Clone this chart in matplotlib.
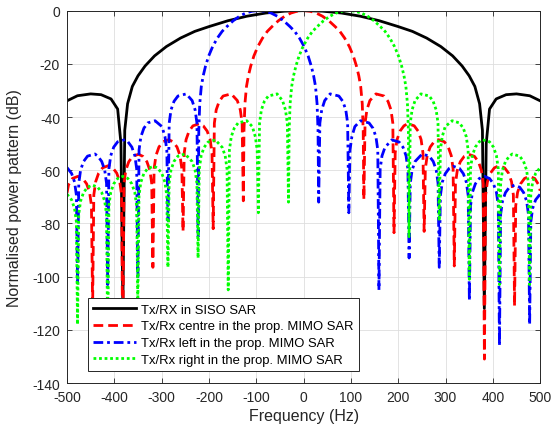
import numpy as np
import matplotlib
matplotlib.use('Agg')
import matplotlib.pyplot as plt

# Values: (frequency in Hz, level in dB)
# nulls, sidelobe peaks and shoulder points of each pattern

siso_pts = [(-500, -33.9), (-478, -32.0), (-450, -31.3), (-428, -31.6), (-407, -33.2),
            (-393, -37.0), (-386, -50), (-382, -112), (-378, -45), (-372, -35),
            (-362, -28.5), (-350, -24.5), (-335, -20.8), (-315, -17.0), (-290, -13.5),
            (-260, -10.3), (-230, -7.8), (-200, -6.0), (-160, -3.8), (-120, -2.1),
            (-80, -0.9), (-40, -0.2), (0, 0), (40, -0.2), (80, -0.9), (120, -2.1),
            (160, -3.8), (200, -6.0), (230, -7.8), (260, -10.3), (290, -13.5),
            (315, -17.0), (335, -20.8), (350, -24.5), (362, -28.5), (372, -35),
            (378, -45), (382, -112), (386, -50), (393, -37.0), (407, -33.2),
            (428, -31.6), (450, -31.3), (478, -32.0), (500, -33.9)]

centre_pts = [(-500, -68.5), (-496.9, -65.5), (-488.6, -63.1), (-477, -62.3), (-466.9, -63.1),
              (-458.6, -65.1), (-452.3, -68.3), (-448.4, -73.3), (-445.9, -111),
              (-443.4, -69.3), (-439.5, -64.3), (-433.2, -61.1), (-424.9, -59.1), (-413, -58.3),
              (-403.2, -59.1), (-394.9, -61.1), (-388.6, -64.3), (-384.7, -69.3), (-382.2, -131),
              (-379.7, -65), (-375.8, -60), (-369.5, -56.8), (-361.2, -54.8), (-349, -54),
              (-339.5, -54.8), (-331.2, -56.8), (-324.9, -60), (-321, -65), (-318.5, -96.5),
              (-316, -59.5), (-312.1, -54.5), (-305.8, -51.3), (-297.5, -49.3), (-285, -48.5),
              (-275.8, -49.3), (-267.5, -51.3), (-261.2, -54.5), (-257.3, -59.5), (-254.8, -83),
              (-252.3, -53.5), (-248.4, -48.5), (-242.1, -45.3), (-233.8, -43.3), (-220, -42.5),
              (-212.1, -43.3), (-203.8, -45.3), (-197.5, -48.5), (-193.6, -53.5), (-191.1, -82),
              (-188.6, -42.3), (-184.7, -37.3), (-178.4, -34.1), (-170.1, -32.1), (-153, -31.3),
              (-140.1, -33.8), (-133.8, -37.3), (-129.9, -42.3), (-127.4, -71.5),
              (-126, -45), (-124, -35), (-120.7, -28.5), (-116.7, -24.5), (-111.7, -20.8),
              (-105, -17.0), (-96.7, -13.5), (-86.7, -10.3), (-76.7, -7.8), (-66.7, -6.0),
              (-53.3, -3.8), (-40, -2.1), (-26.7, -0.9), (-13.3, -0.2), (0, 0),
              (13.3, -0.2), (26.7, -0.9), (40, -2.1), (53.3, -3.8), (66.7, -6.0),
              (76.7, -7.8), (86.7, -10.3), (96.7, -13.5), (105, -17.0), (111.7, -20.8),
              (116.7, -24.5), (120.7, -28.5), (124, -35), (126, -45), (127.4, -71),
              (129.9, -42.3), (133.8, -37.3), (140.1, -33.8), (153, -31.3), (170.1, -32.1),
              (178.4, -34.1), (184.7, -37.3), (188.6, -42.3), (191.1, -83.5),
              (193.6, -53.5), (197.5, -48.5), (203.8, -45.3), (212.1, -43.3), (220, -42.5),
              (233.8, -43.3), (242.1, -45.3), (248.4, -48.5), (252.3, -53.5), (254.8, -83),
              (257.3, -59.5), (261.2, -54.5), (267.5, -51.3), (275.8, -49.3), (285, -48.5),
              (297.5, -49.3), (305.8, -51.3), (312.1, -54.5), (316, -59.5), (318.5, -96),
              (321, -65), (324.9, -60), (331.2, -56.8), (339.5, -54.8), (349, -54),
              (361.2, -54.8), (369.5, -56.8), (375.8, -60), (379.7, -65), (382.2, -131),
              (384.7, -69.3), (388.6, -64.3), (394.9, -61.1), (403.2, -59.1), (413, -58.3),
              (424.9, -59.1), (433.2, -61.1), (439.5, -64.3), (443.4, -69.3), (445.9, -111),
              (448.4, -73.3), (452.3, -68.3), (458.6, -65.1), (466.9, -63.1), (477, -62.3),
              (488.6, -63.1), (496.9, -65.5), (500, -67.7)]

left_pts = [(-500, -59.0), (-490.4, -61.2), (-484.1, -64.4), (-480.2, -69.4), (-477.7, -103),
            (-475.2, -64.9), (-471.3, -59.9), (-465, -56.7), (-456.7, -54.7), (-441, -53.9),
            (-435, -54.7), (-426.7, -56.7), (-420.4, -59.9), (-416.5, -64.9), (-414, -103),
            (-411.5, -59.5), (-407.6, -54.5), (-401.3, -51.3), (-393, -49.3), (-377.5, -48.5),
            (-371.3, -49.3), (-363, -51.3), (-356.7, -54.5), (-352.8, -59.5), (-350.3, -101),
            (-347.8, -52.4), (-343.9, -47.4), (-337.6, -44.2), (-329.3, -42.2), (-314, -41.4),
            (-299.3, -43.6), (-293, -47.4), (-289.1, -52.4), (-286.6, -79),
            (-284.1, -42.3), (-280.2, -37.3), (-273.9, -34.1), (-265.6, -32.1), (-248, -31.3),
            (-235.6, -33.8), (-229.3, -37.3), (-225.4, -42.3), (-222.9, -85),
            (-221.5, -45), (-219.5, -35), (-216.2, -28.5), (-212.2, -24.5), (-207.2, -20.8),
            (-200.5, -17.0), (-192.2, -13.5), (-182.2, -10.3), (-172.2, -7.8), (-162.2, -6.0),
            (-148.8, -3.8), (-135.5, -2.1), (-122.2, -0.9), (-108.8, -0.2), (-95.5, 0),
            (-82.2, -0.2), (-68.8, -0.9), (-55.5, -2.1), (-42.2, -3.8), (-28.8, -6.0),
            (-18.8, -7.8), (-8.8, -10.3), (1.2, -13.5), (9.5, -17.0), (16.2, -20.8),
            (21.2, -24.5), (25.2, -28.5), (28.5, -35), (30.5, -45), (31.9, -72),
            (34.4, -42.3), (38.3, -37.3), (44.6, -33.8), (56, -31.3), (74.6, -32.1),
            (82.9, -34.1), (89.2, -37.3), (93.1, -42.3), (95.6, -76),
            (98.1, -52.4), (102, -47.4), (108.3, -43.6), (120, -41.4), (138.3, -42.2),
            (146.6, -44.2), (152.9, -47.4), (156.8, -52.4), (159.3, -105),
            (161.8, -59.6), (165.7, -54.6), (172, -51.4), (186.5, -48.6), (202, -49.4),
            (210.3, -51.4), (216.6, -54.6), (220.5, -59.6), (223, -93),
            (225.5, -64.9), (229.4, -59.9), (235.7, -56.7), (250.5, -53.9), (265.7, -54.7),
            (274, -56.7), (280.3, -59.9), (284.2, -64.9), (286.7, -96.5),
            (289.2, -69.5), (293.1, -64.5), (299.4, -61.3), (307.7, -59.3), (316, -58.5),
            (329.4, -59.3), (337.7, -61.3), (344, -64.5), (347.9, -69.5), (350.4, -109),
            (352.9, -73.3), (356.8, -68.3), (363.1, -65.1), (371.4, -63.1), (382, -62.3),
            (393, -63.1), (401.3, -65.1), (407.6, -68.3), (411.5, -73.3), (414, -126),
            (416.5, -76.6), (420.4, -71.6), (426.7, -68.4), (435, -66.4), (446, -65.6),
            (456.8, -66.4), (465.1, -68.4), (471.4, -71.6), (475.3, -76.6), (477.8, -118),
            (480.3, -79.3), (484.2, -74.3), (490.5, -71.1), (500, -69.0)]

right_pts = [(-500, -69.0), (-490.5, -71.1), (-484.2, -74.3), (-480.3, -79.3), (-477.8, -118),
             (-475.3, -76.6), (-471.4, -71.6), (-465.1, -68.4), (-456.8, -66.4), (-446, -65.6),
             (-435, -66.4), (-426.7, -68.4), (-420.4, -71.6), (-416.5, -76.6), (-414, -126),
             (-411.5, -73.3), (-407.6, -68.3), (-401.3, -65.1), (-393, -63.1), (-382, -62.3),
             (-371.4, -63.1), (-363.1, -65.1), (-356.8, -68.3), (-352.9, -73.3), (-350.4, -109),
             (-347.9, -69.5), (-344, -64.5), (-337.7, -61.3), (-329.4, -59.3), (-316, -58.5),
             (-307.7, -59.3), (-299.4, -61.3), (-293.1, -64.5), (-289.2, -69.5), (-286.7, -96.5),
             (-284.2, -64.9), (-280.3, -59.9), (-274, -56.7), (-265.7, -54.7), (-250.5, -53.9),
             (-235.7, -56.7), (-229.4, -59.9), (-225.5, -64.9), (-223, -93),
             (-220.5, -59.6), (-216.6, -54.6), (-210.3, -51.4), (-202, -49.4), (-186.5, -48.6),
             (-172, -51.4), (-165.7, -54.6), (-161.8, -59.6), (-159.3, -105),
             (-156.8, -52.4), (-152.9, -47.4), (-146.6, -44.2), (-138.3, -42.2), (-120, -41.4),
             (-108.3, -43.6), (-102, -47.4), (-98.1, -52.4), (-95.6, -76),
             (-93.1, -42.3), (-89.2, -37.3), (-82.9, -34.1), (-74.6, -32.1), (-56, -31.3),
             (-44.6, -33.8), (-38.3, -37.3), (-34.4, -42.3), (-31.9, -72),
             (-30.5, -45), (-28.5, -35), (-25.2, -28.5), (-21.2, -24.5), (-16.2, -20.8),
             (-9.5, -17.0), (-1.2, -13.5), (8.8, -10.3), (18.8, -7.8), (28.8, -6.0),
             (42.2, -3.8), (55.5, -2.1), (68.8, -0.9), (82.2, -0.2), (95.5, 0),
             (108.8, -0.2), (122.2, -0.9), (135.5, -2.1), (148.8, -3.8), (162.2, -6.0),
             (172.2, -7.8), (182.2, -10.3), (192.2, -13.5), (200.5, -17.0), (207.2, -20.8),
             (212.2, -24.5), (216.2, -28.5), (219.5, -35), (221.5, -45), (222.9, -85),
             (225.4, -42.3), (229.3, -37.3), (235.6, -33.8), (248, -31.3), (265.6, -32.1),
             (273.9, -34.1), (280.2, -37.3), (284.1, -42.3), (286.6, -79),
             (289.1, -52.4), (293, -47.4), (299.3, -43.6), (314, -41.4), (329.3, -42.2),
             (337.6, -44.2), (343.9, -47.4), (347.8, -52.4), (350.3, -101),
             (352.8, -59.5), (356.7, -54.5), (363, -51.3), (371.3, -49.3), (377.5, -48.5),
             (393, -49.3), (401.3, -51.3), (407.6, -54.5), (411.5, -59.5), (414, -103),
             (416.5, -64.9), (420.4, -59.9), (426.7, -56.7), (435, -54.7), (441, -53.9),
             (456.7, -54.7), (465, -56.7), (471.3, -59.9), (475.2, -64.9), (477.7, -103),
             (480.2, -69.4), (484.1, -64.4), (490.4, -61.2), (500, -59.0)]

labels = ['Tx/RX in SISO SAR',
          'Tx/Rx centre in the prop. MIMO SAR',
          'Tx/Rx left in the prop. MIMO SAR',
          'Tx/Rx right in the prop. MIMO SAR']

x_ticks = [-500, -400, -300, -200, -100, 0, 100, 200, 300, 400, 500]
y_ticks = [-140, -120, -100, -80, -60, -40, -20, 0]

plt.rcParams['font.family'] = ['Liberation Sans', 'DejaVu Sans']
plt.rcParams['axes.unicode_minus'] = False
dark = '#262626'

fig = plt.figure(figsize=(5.54, 4.31), dpi=100)
ax = fig.add_axes([0.121, 0.109, 0.854, 0.864])

# the four patterns, in legend order
f, db = zip(*siso_pts)
ax.plot(f, db, color='k', lw=2.0, linestyle='-', label=labels[0])
f, db = zip(*centre_pts)
ax.plot(f, db, color='r', lw=2.0, linestyle=(0, (3.5, 1.8)), label=labels[1])
f, db = zip(*left_pts)
ax.plot(f, db, color='b', lw=2.0, linestyle=(0, (3.5, 1.4, 1.0, 1.4)), label=labels[2])
f, db = zip(*right_pts)
ax.plot(f, db, color='#00ff00', lw=2.0, linestyle=(0, (1.0, 1.0)), label=labels[3])

ax.set_xlim(-500, 500)
ax.set_ylim(-140, 0)
ax.set_xticks(x_ticks)
ax.set_yticks(y_ticks)
ax.grid(True, color='#dedede', lw=0.6)
ax.set_axisbelow(True)
ax.tick_params(direction='in', top=True, right=True, length=3.5, width=0.6,
               labelsize=10, colors=dark, pad=5)
for s in ax.spines.values():
    s.set_color(dark)
    s.set_linewidth(0.7)

ax.set_xlabel('Frequency (Hz)', fontsize=11.5, color=dark, labelpad=3)
ax.set_ylabel('Normalised power pattern (dB)', fontsize=11.5, color=dark, labelpad=7)

leg = ax.legend(loc='lower left', bbox_to_anchor=(0.044, 0.032), borderaxespad=0,
                fontsize=9.4, fancybox=False, framealpha=1, edgecolor=dark,
                handlelength=3.3, handletextpad=0.4, labelspacing=0.35, borderpad=0.4)
leg.get_frame().set_linewidth(0.7)

fig.savefig('out.png', dpi=100)
